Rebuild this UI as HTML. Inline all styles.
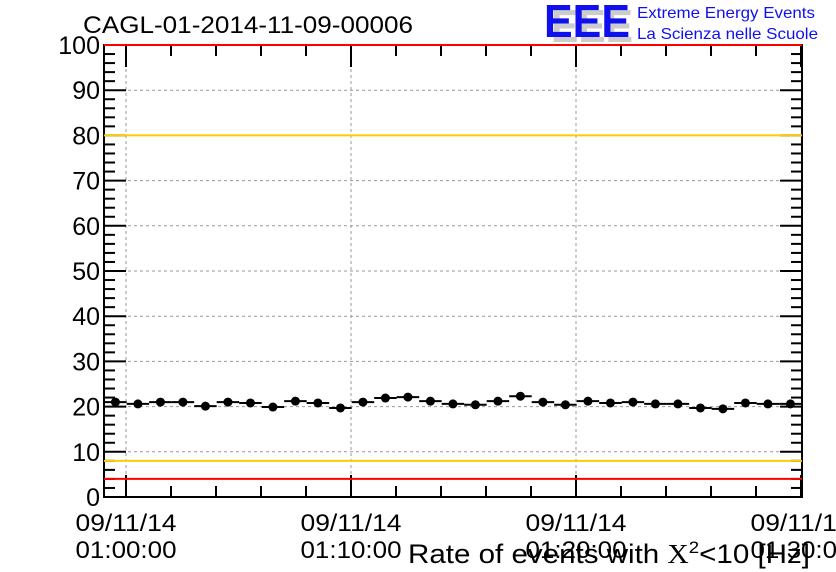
<!DOCTYPE html>
<html><head><meta charset="utf-8"><style>
html,body{margin:0;padding:0;background:#fff;}
svg{display:block;font-family:"Liberation Sans",sans-serif;}
</style></head><body>
<svg id="chart" width="836" height="572" viewBox="0 0 836 572">
<text x="83" y="33" font-size="24" textLength="330" lengthAdjust="spacingAndGlyphs">CAGL-01-2014-11-09-00006</text>
<g>
<text x="551" y="42" font-size="46" font-weight="bold" fill="#ccc" textLength="82" lengthAdjust="spacingAndGlyphs">EEE</text>
<text x="544" y="37" font-size="46" font-weight="bold" fill="#1010ee" textLength="86" lengthAdjust="spacingAndGlyphs">EEE</text>
<text x="637" y="18" font-size="16" fill="#1010ee" textLength="178" lengthAdjust="spacingAndGlyphs">Extreme Energy Events</text>
<text x="637" y="39" font-size="16" fill="#1010ee" textLength="181" lengthAdjust="spacingAndGlyphs">La Scienza nelle Scuole</text>
</g>
<g id="grid"></g>
<g id="axes"></g>
<g id="marks"></g>
<text x="810" y="563" font-size="27" text-anchor="end" textLength="402" lengthAdjust="spacingAndGlyphs">Rate of events with <tspan font-family="Liberation Serif">X</tspan><tspan dy="-10" font-size="17">2</tspan><tspan dy="10">&lt;10 [Hz]</tspan></text>
</svg>
<script>
const values=[21.0,20.6,21.0,21.0,20.1,21.0,20.8,19.9,21.2,20.8,19.7,21.0,21.9,22.1,21.2,20.6,20.4,21.2,22.3,21.0,20.4,21.2,20.8,21.0,20.6,20.6,19.7,19.5,20.8,20.6,20.6];
const errors=[0.4,0.4,0.4,0.4,0.4,0.4,0.4,0.4,0.4,0.4,0.4,0.4,0.4,0.4,0.4,0.4,0.4,0.4,0.4,0.4,0.4,0.4,0.4,0.4,0.4,0.4,0.4,0.4,0.4,0.4,0.4];
const yTicks=[0,10,20,30,40,50,60,70,80,90,100];
const xTickMinutes=[0,10,20,30];
const xDateLabels=["09/11/14","09/11/14","09/11/14","09/11/14"];
const xTimeLabels=["01:00:00","01:10:00","01:20:00","01:30:00"];
const redLevels=[4,100];
const yellowLevels=[8,80];
const startMinute=-0.47;
const L=104,R=802,T=45,B=497;
const X0=126,PXMIN=22.5;
const xs=m=>X0+m*PXMIN;
const ys=v=>B-(v/100)*(B-T);
const NS="http://www.w3.org/2000/svg";
function mk(tag,attrs,parent){const e=document.createElementNS(NS,tag);for(const k in attrs)e.setAttribute(k,attrs[k]);parent.appendChild(e);return e;}
const grid=document.getElementById('grid'),axes=document.getElementById('axes'),marks=document.getElementById('marks');
yTicks.forEach(v=>{if(v>0&&v<100){const g=mk('line',{x1:L,x2:R,y1:ys(v),y2:ys(v),stroke:'#999','stroke-dasharray':'3,3','stroke-width':1},grid);

}});
xTickMinutes.forEach(m=>{if(xs(m)<R-2){const g=mk('line',{x1:xs(m),x2:xs(m),y1:T,y2:B,stroke:'#999','stroke-dasharray':'3,3','stroke-width':1},grid);

}});
const frame=mk('rect',{x:L,y:T,width:R-L,height:B-T,fill:'none',stroke:'#000','stroke-width':2},axes);


for(let v=0;v<=100;v+=2){const major=v%10===0,len=major?22:11;
mk('line',{x1:L,x2:L+len,y1:ys(v),y2:ys(v),stroke:'#000','stroke-width':2},axes);
mk('line',{x1:R-len,x2:R,y1:ys(v),y2:ys(v),stroke:'#000','stroke-width':2},axes);}
yTicks.forEach(v=>{const t=mk('text',{x:L-4,y:ys(v)+9,'font-size':25,'text-anchor':'end'},axes);t.textContent=v;

});
for(let m=0;m<=30;m+=2){const x=xs(m);if(x>R)break;const major=m%10===0,len=major?22:11;
mk('line',{x1:x,x2:x,y1:B,y2:B-len,stroke:'#000','stroke-width':2},axes);
mk('line',{x1:x,x2:x,y1:T,y2:T+len,stroke:'#000','stroke-width':2},axes);}
xTickMinutes.forEach((m,i)=>{const x=xs(m);
const d=mk('text',{x:x,y:531,'font-size':24,'text-anchor':'middle',textLength:101,lengthAdjust:'spacingAndGlyphs'},axes);d.textContent=xDateLabels[i];


const t=mk('text',{x:x,y:558,'font-size':24,'text-anchor':'middle',textLength:101,lengthAdjust:'spacingAndGlyphs'},axes);t.textContent=xTimeLabels[i];

});
redLevels.forEach(v=>{const l=mk('line',{x1:L,x2:R,y1:ys(v),y2:ys(v),stroke:'#f00','stroke-width':2},marks);

});
yellowLevels.forEach(v=>{const l=mk('line',{x1:L,x2:R,y1:ys(v),y2:ys(v),stroke:'#fc0','stroke-width':2},marks);

});
values.forEach((v,i)=>{const m=startMinute+i;const x=xs(m),y=ys(v);
const g=mk('g',{},marks);


mk('line',{x1:Math.max(L,xs(m-0.5)),x2:Math.min(R,xs(m+0.5)),y1:y,y2:y,stroke:'#000','stroke-width':2},g);
mk('line',{x1:x,x2:x,y1:ys(v-errors[i]),y2:ys(v+errors[i]),stroke:'#000','stroke-width':2},g);
mk('circle',{cx:x,cy:y,r:4.5,fill:'#000'},g);});
</script>
</body></html>
